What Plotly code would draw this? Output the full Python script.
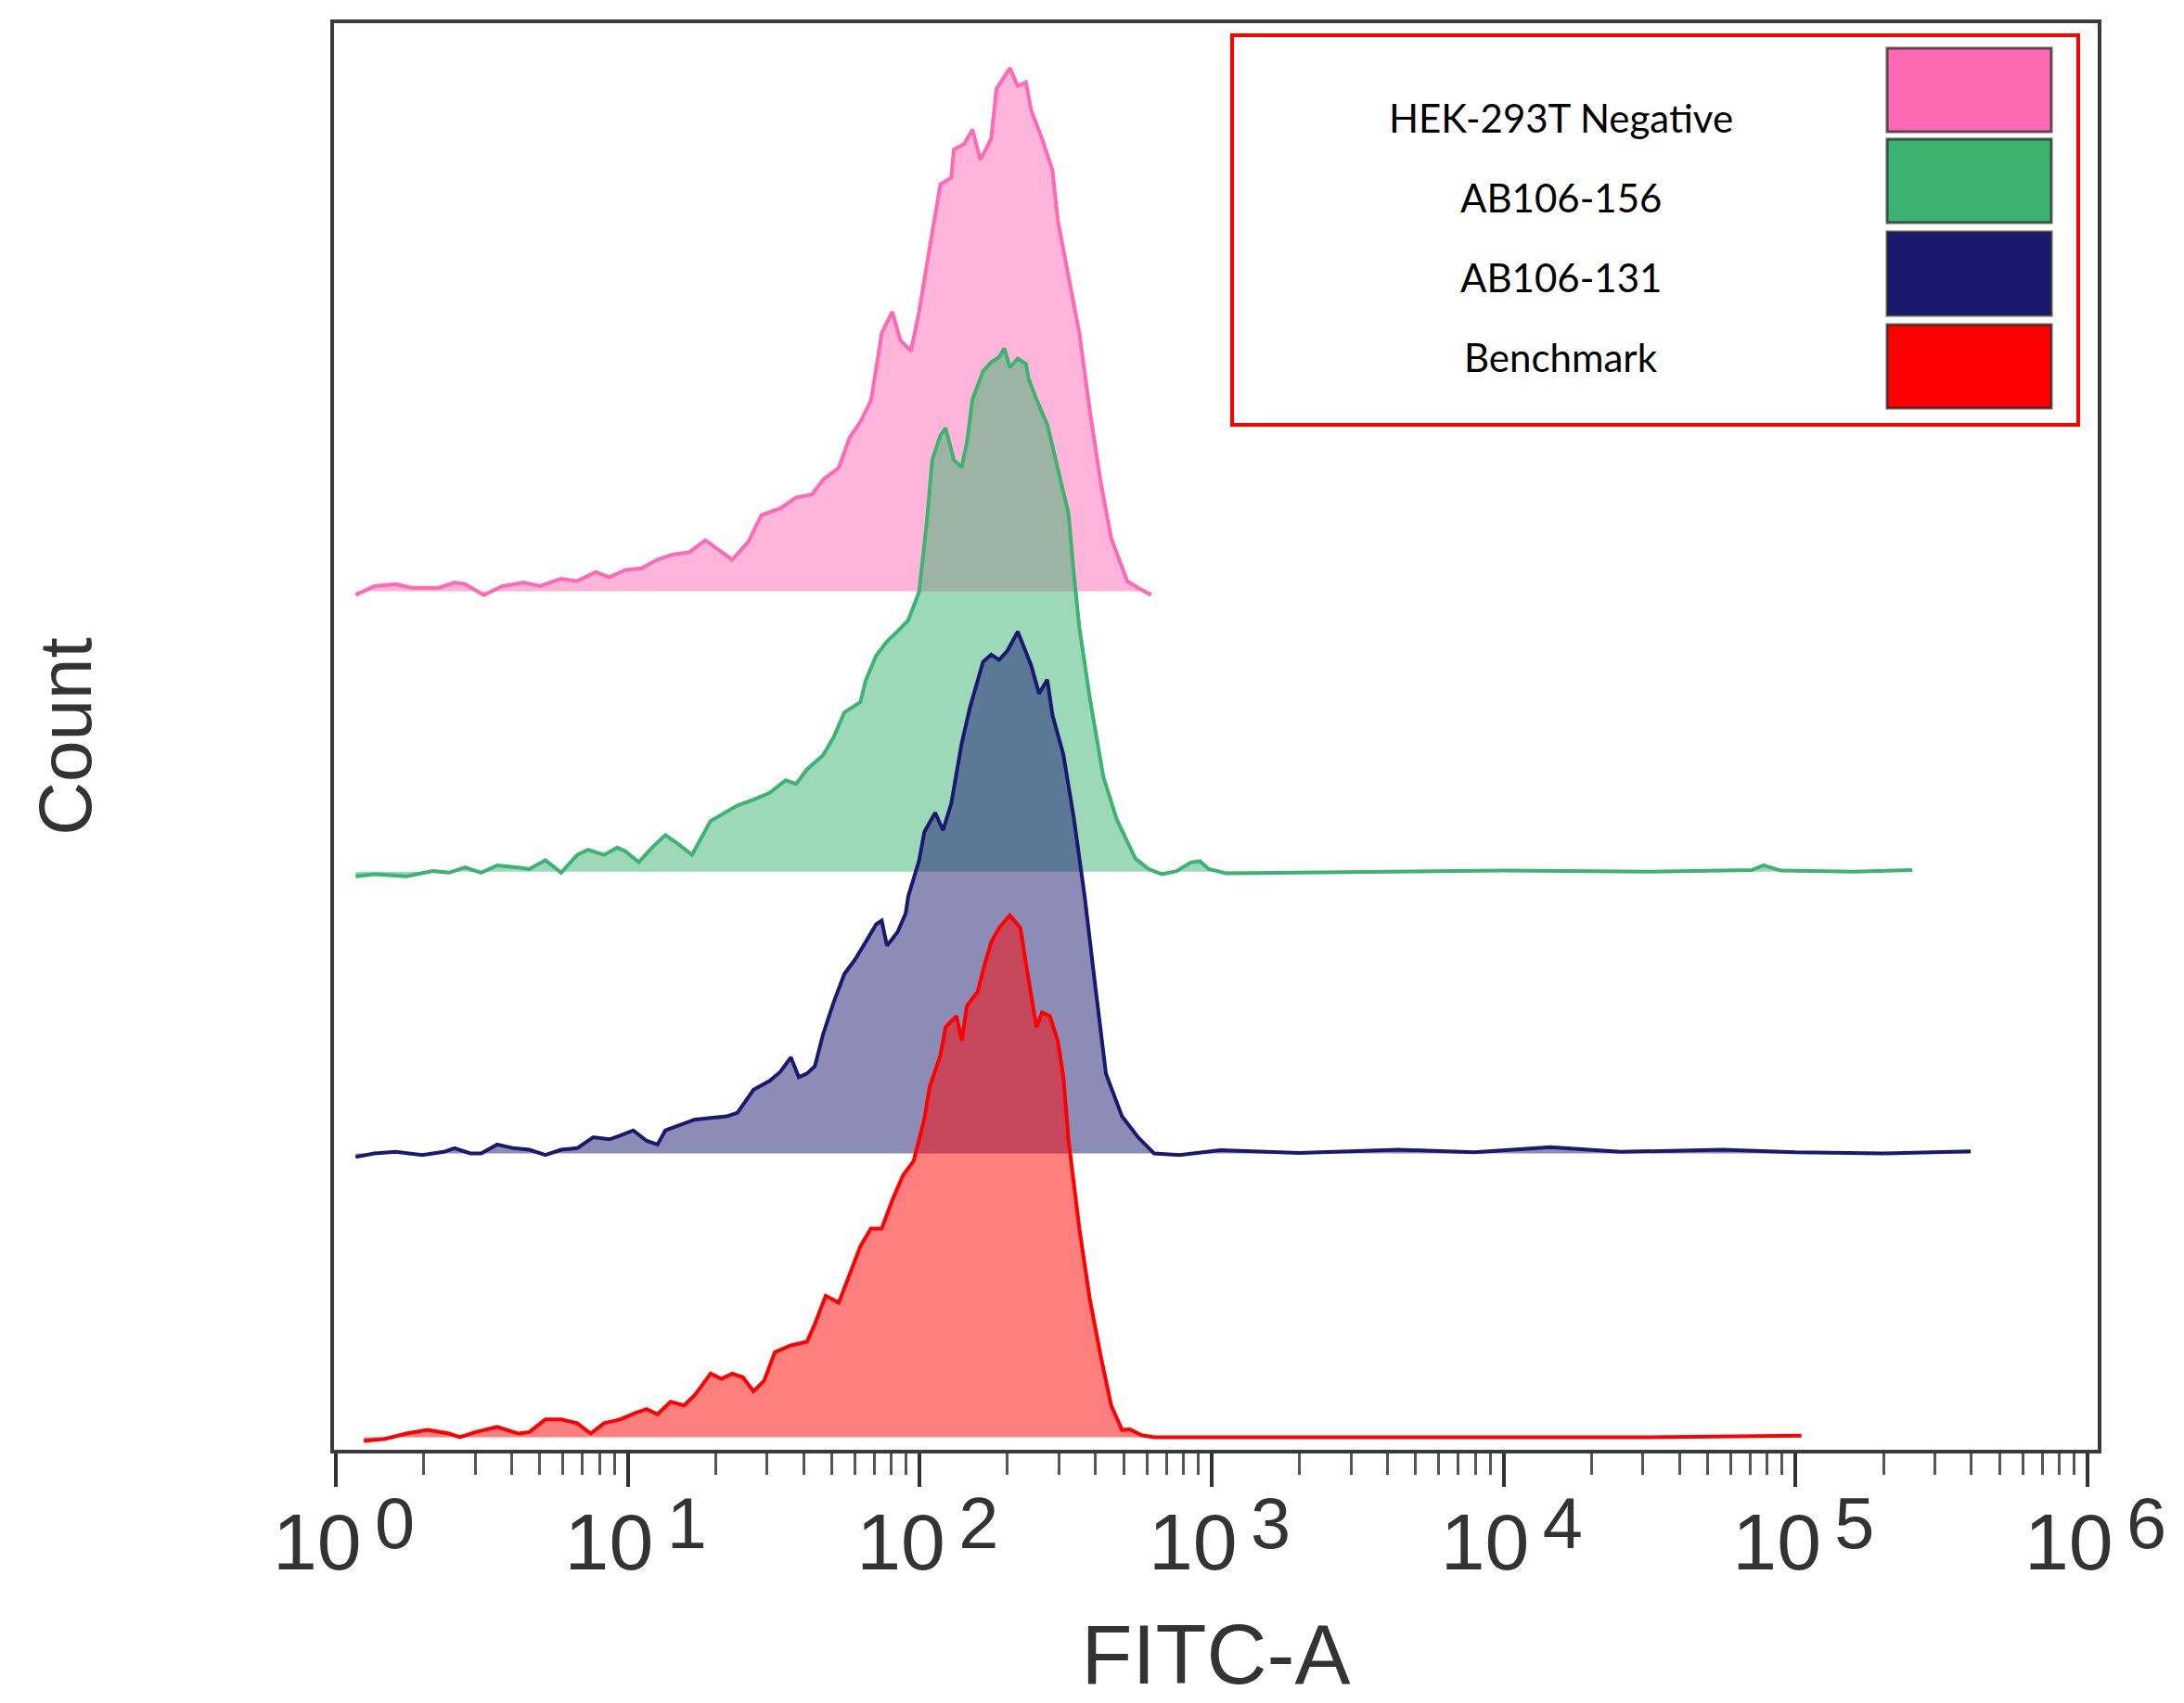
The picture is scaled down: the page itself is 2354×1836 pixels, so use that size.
import plotly.graph_objects as go

# ---------------- data ----------------
# x values are log10(FITC-A); y values are counts normalised to each peak (=100)
names = ["HEK-293T Negative", "AB106-156", "AB106-131", "Benchmark"]

pink_logx = [0.068, 0.132, 0.205, 0.260, 0.352, 0.407, 0.443, 0.507, 0.571, 0.644,
             0.699, 0.772, 0.827, 0.891, 0.937, 0.992, 1.047, 1.102, 1.156, 1.211,
             1.266, 1.358, 1.413, 1.458, 1.522, 1.577, 1.632, 1.669, 1.723, 1.760,
             1.797, 1.833, 1.851, 1.870, 1.906, 1.934, 1.970, 1.998, 2.034, 2.071,
             2.108, 2.117, 2.153, 2.181, 2.208, 2.245, 2.263, 2.309, 2.336, 2.364,
             2.382, 2.419, 2.455, 2.473, 2.510, 2.547, 2.583, 2.620, 2.656, 2.711,
             2.748, 2.793]
pink_count = [-0.7, 1.0, 1.4, 0.7, 0.7, 1.7, 1.4, -0.7, 1.0, 1.7,
              1.0, 2.4, 2.0, 3.7, 2.7, 4.1, 4.4, 6.1, 7.1, 7.5,
              9.8, 6.1, 9.5, 14.6, 15.9, 18.0, 18.6, 21.4, 23.7, 29.5,
              32.5, 36.6, 42.7, 49.5, 53.6, 48.1, 46.1, 53.6, 65.8, 78.0,
              79.3, 84.7, 85.8, 88.5, 82.7, 86.8, 96.3, 100.3, 96.9, 97.6,
              92.2, 86.8, 80.7, 71.2, 60.3, 49.5, 34.6, 21.0, 10.2, 2.0,
              0.7, -0.7]

green_logx = [0.068, 0.132, 0.242, 0.333, 0.388, 0.443, 0.498, 0.553, 0.626, 0.663,
              0.718, 0.772, 0.827, 0.864, 0.919, 0.964, 0.992, 1.038, 1.083, 1.129,
              1.175, 1.220, 1.284, 1.339, 1.376, 1.431, 1.486, 1.541, 1.577, 1.614,
              1.669, 1.705, 1.742, 1.797, 1.815, 1.851, 1.888, 1.925, 1.961, 1.998,
              2.025, 2.043, 2.071, 2.089, 2.117, 2.144, 2.162, 2.181, 2.217, 2.245,
              2.272, 2.290, 2.309, 2.336, 2.364, 2.373, 2.400, 2.437, 2.473, 2.510,
              2.528, 2.547, 2.583, 2.629, 2.675, 2.711, 2.739, 2.784, 2.830, 2.880,
              2.930, 2.960, 2.990, 3.050, 3.500, 4.000, 4.500, 4.850, 4.890, 4.950,
              5.200, 5.400]
green_count = [-0.9, -0.5, -0.9, 0.1, -0.2, 0.8, -0.2, 1.2, 0.8, 0.5,
               2.2, -0.2, 3.2, 4.2, 3.2, 4.6, 3.9, 1.8, 4.6, 7.0,
               5.2, 3.2, 9.7, 11.4, 12.7, 13.8, 15.1, 17.5, 16.8, 19.6,
               22.3, 25.7, 30.5, 32.5, 36.6, 41.4, 44.1, 46.1, 48.2, 53.6,
               67.3, 78.9, 83.6, 85.0, 78.9, 77.5, 82.3, 90.5, 95.9, 97.6,
               98.6, 100.3, 96.6, 98.3, 97.3, 94.5, 90.5, 85.7, 77.5, 68.6,
               57.1, 46.8, 33.2, 18.2, 10.0, 5.9, 2.5, 0.5, -0.5, 0.1,
               1.8, 2.0, 0.5, -0.3, 0.0, 0.2, 0.0, 0.3, 1.2, 0.2,
               0.0, 0.3]

navy_logx = [0.068, 0.132, 0.205, 0.297, 0.370, 0.407, 0.461, 0.498, 0.553, 0.608,
             0.663, 0.718, 0.772, 0.827, 0.882, 0.937, 0.973, 1.019, 1.065, 1.102,
             1.129, 1.175, 1.230, 1.284, 1.339, 1.376, 1.431, 1.486, 1.522, 1.559,
             1.586, 1.614, 1.641, 1.669, 1.705, 1.742, 1.778, 1.815, 1.851, 1.870,
             1.888, 1.925, 1.952, 1.961, 1.998, 2.016, 2.053, 2.080, 2.108, 2.144,
             2.172, 2.217, 2.245, 2.272, 2.300, 2.336, 2.354, 2.382, 2.409, 2.437,
             2.455, 2.492, 2.528, 2.565, 2.601, 2.638, 2.693, 2.748, 2.803, 2.890,
             3.030, 3.300, 3.640, 3.900, 4.160, 4.400, 4.750, 5.000, 5.300, 5.600]
navy_count = [-0.7, 0.0, 0.3, -0.3, 0.3, 1.0, 0.0, 0.0, 1.7, 1.0,
              0.7, -0.3, 0.7, 1.0, 3.1, 2.7, 3.4, 4.4, 2.4, 1.7,
              4.4, 5.4, 6.5, 6.8, 7.1, 7.8, 12.2, 13.9, 15.6, 18.4,
              14.6, 15.3, 16.7, 22.8, 28.9, 34.4, 37.1, 40.5, 43.9, 44.6,
              39.8, 42.5, 46.0, 49.3, 56.1, 61.6, 65.3, 61.9, 67.0, 78.6,
              85.4, 94.2, 95.6, 94.6, 96.3, 100.0, 97.6, 93.5, 88.1, 90.8,
              84.0, 76.5, 64.3, 49.3, 32.3, 15.3, 7.1, 3.1, 0.0, -0.3,
              0.6, 0.1, 0.7, 0.2, 1.2, 0.3, 0.7, 0.2, 0.0, 0.4]

red_logx = [0.096, 0.169, 0.242, 0.315, 0.388, 0.425, 0.480, 0.553, 0.626, 0.663,
            0.718, 0.772, 0.827, 0.873, 0.919, 0.973, 1.028, 1.065, 1.102, 1.147,
            1.193, 1.230, 1.284, 1.321, 1.358, 1.394, 1.431, 1.467, 1.504, 1.559,
            1.614, 1.641, 1.678, 1.723, 1.760, 1.797, 1.833, 1.870, 1.906, 1.943,
            1.979, 2.016, 2.034, 2.071, 2.089, 2.126, 2.144, 2.162, 2.199, 2.217,
            2.245, 2.272, 2.309, 2.345, 2.364, 2.391, 2.400, 2.419, 2.446, 2.473,
            2.492, 2.510, 2.547, 2.583, 2.620, 2.656, 2.693, 2.720, 2.760, 2.803,
            3.500, 4.000, 4.500, 5.020]
red_count = [-0.7, -0.3, 0.7, 1.4, 0.7, 0.0, 1.0, 2.0, 0.7, 1.0,
             3.4, 3.4, 2.7, 0.7, 2.7, 3.4, 4.7, 5.4, 4.4, 6.8,
             6.1, 8.1, 12.2, 11.2, 12.2, 11.5, 8.8, 10.8, 16.3, 17.6,
             18.3, 21.7, 27.1, 25.8, 31.2, 36.6, 40.0, 40.0, 45.4, 50.2,
             52.9, 61.0, 67.1, 73.2, 78.6, 80.7, 76.0, 82.7, 85.4, 89.5,
             94.9, 97.6, 100.0, 97.6, 90.8, 81.4, 78.6, 81.4, 80.7, 76.0,
             69.2, 56.9, 40.0, 26.4, 15.6, 6.1, 1.4, 1.5, 0.4, 0.0,
             0.0, 0.0, 0.0, 0.3]

series_logx = [pink_logx, green_logx, navy_logx, red_logx]
series_count = [pink_count, green_count, navy_count, red_count]

decades = [0, 1, 2, 3, 4, 5, 6]
# exponent written almost full size and only slightly raised, as in the picture
tick_labels = ["\u200910\u200a\u200a<sup><sub><span style='font-size:184%'>" + str(d) +
               "</span></sub></sup>" for d in decades]

# ---------------- style ----------------
line_colors = ["#ff69b4", "#3cb371", "#191970", "#ff0000"]
fill_colors = ["rgba(255,105,180,0.5)", "rgba(60,179,113,0.5)",
               "rgba(25,25,112,0.5)", "rgba(255,0,0,0.5)"]
offsets = [164.5, 110.8, 56.8, 2.4]     # vertical stacking offset of each histogram

W, H = 2354, 1836
SHIFT = 8                                # page body margin of the browser
PL, PR, PT, PB = 360, 2261, 25, 1563     # plot box in screen pixels
Y_TOP = 273.4


def px(x):
    return (x - PL) / (PR - PL)


def py(y):
    return (PB - y) / (PB - PT)


fig = go.Figure()
for lx, cnt, lc, fc, off in zip(series_logx, series_count, line_colors, fill_colors, offsets):
    xs = [10 ** v for v in lx]
    ys = [off + c for c in cnt]
    fig.add_trace(go.Scatter(x=[xs[0], xs[-1]], y=[off, off], mode="lines",
                             line=dict(width=0, color=lc), hoverinfo="skip",
                             showlegend=False))
    fig.add_trace(go.Scatter(x=xs, y=ys, mode="lines", fill="tonexty",
                             fillcolor=fc, line=dict(color=lc, width=4),
                             showlegend=False))

minor_vals = [m * 10 ** d for d in decades[:-1] for m in range(2, 10)]

fig.update_xaxes(
    type="log", range=[-0.006, 6.035],
    tickmode="array", tickvals=[10 ** d for d in decades], ticktext=tick_labels,
    ticks="outside", ticklen=36, tickwidth=4, tickcolor="#333333",
    minor=dict(tickmode="array", tickvals=minor_vals, ticks="outside",
               ticklen=23, tickwidth=3, tickcolor="#555555", showgrid=False),
    tickfont=dict(family="Liberation Sans, Arial, sans-serif", size=86, color="#333333"),
    ticklabelstandoff=-14,
    showgrid=False, zeroline=False,
    showline=True, linecolor="#3a3a3a", linewidth=4, mirror=True,
    title=dict(text="FITC-A", standoff=44,
               font=dict(family="Liberation Sans, Arial, sans-serif", size=90, color="#333333")),
)
fig.update_yaxes(
    range=[0, Y_TOP], showticklabels=False, ticks="", showgrid=False, zeroline=False,
    showline=True, linecolor="#3a3a3a", linewidth=4, mirror=True,
    title=dict(text="Count", standoff=232,
               font=dict(family="Liberation Sans, Arial, sans-serif",
                         size=80, color="#333333")),
)

# legend box drawn as in the picture
shapes = [dict(type="rect", xref="paper", yref="paper",
               x0=px(1328), x1=px(2240), y0=py(458), y1=py(38),
               line=dict(color="#ff0000", width=4), fillcolor="white", layer="above")]
annotations = []
sw_tops = [52, 150, 250, 350]
lab_y = [127, 213, 299, 385]
for name, col, top, ly in zip(names, line_colors, sw_tops, lab_y):
    shapes.append(dict(type="rect", xref="paper", yref="paper",
                       x0=px(2034), x1=px(2211), y0=py(top + 90), y1=py(top),
                       line=dict(color="rgba(40,40,40,0.75)", width=3),
                       fillcolor=col, layer="above"))
    annotations.append(dict(text=name, xref="paper", yref="paper",
                            x=px(1682), y=py(ly), xanchor="center", yanchor="middle",
                            showarrow=False,
                            font=dict(family="Lato, Noto Sans, sans-serif", size=42, color="#000000")))

fig.update_layout(
    width=W, height=H,
    margin=dict(l=PL - SHIFT, r=W - PR + SHIFT, t=PT - SHIFT, b=H - PB + SHIFT,
                autoexpand=False),
    paper_bgcolor="white", plot_bgcolor="white",
    showlegend=False, shapes=shapes, annotations=annotations,
)

fig.write_html("out.html")
